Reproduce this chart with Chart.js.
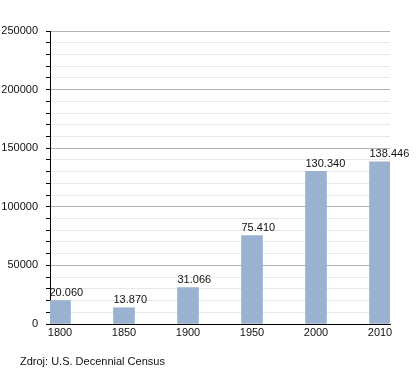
<!DOCTYPE html>
<html>
<head>
<meta charset="utf-8">
<script src="https://cdn.jsdelivr.net/npm/chart.js@4"></script>
<style>
  html, body { margin: 0; padding: 0; background: #fff; }
  canvas { display: block; }
</style>
</head>
<body>
<canvas id="popChart" width="420" height="373"></canvas>
<script>
// Census years and population
const years = ['1800', '1850', '1900', '1950', '2000', '2010'];
const population = [20060, 13870, 31066, 75410, 130340, 138446];
const valueLabels = ['20.060', '13.870', '31.066', '75.410', '130.340', '138.446'];
const sourceNote = 'Zdroj: U.S. Decennial Census';

const FONT = '"Liberation Sans", Arial, sans-serif';

// Labels above bars, left-aligned to the bar edge
const barLabels = {
  id: 'barLabels',
  afterDatasetsDraw(chart) {
    const ctx = chart.ctx;
    const meta = chart.getDatasetMeta(0);
    ctx.save();
    ctx.font = '11px ' + FONT;
    ctx.fillStyle = '#111';
    ctx.textAlign = 'left';
    ctx.textBaseline = 'bottom';
    meta.data.forEach((bar, i) => {
      ctx.fillText(valueLabels[i], bar.x - bar.width / 2, bar.y - 2);
    });
    ctx.restore();
  }
};

// Source footnote
const footNote = {
  id: 'footNote',
  afterDraw(chart) {
    const ctx = chart.ctx;
    ctx.save();
    ctx.font = '11px ' + FONT;
    ctx.fillStyle = '#111';
    ctx.textAlign = 'left';
    ctx.textBaseline = 'middle';
    ctx.fillText(sourceNote, 20, 362);
    ctx.restore();
  }
};

new Chart(document.getElementById('popChart'), {
  type: 'bar',
  data: {
    datasets: [{
      data: population.map((v, i) => ({ x: i, y: v })),
      backgroundColor: '#9ab2cf',
      barThickness: 21
    }]
  },
  options: {
    responsive: false,
    animation: false,
    layout: { padding: { top: 31, right: 30, left: 0, bottom: 0 } },
    plugins: {
      legend: { display: false },
      tooltip: { enabled: false }
    },
    scales: {
      x: {
        type: 'linear',
        offset: false,
        min: -10 / 64,
        max: 5 + 10 / 64,
        afterBuildTicks: s => {
          s.ticks = years.map((y, i) => ({ value: i }));
        },
        afterFit: s => { s.height = 49; },
        ticks: {
          autoSkip: false,
          maxRotation: 0,
          padding: 2,
          color: '#111',
          font: { family: FONT, size: 11 },
          callback: v => years[v] ?? ''
        },
        grid: { display: false, drawTicks: false },
        border: { display: true, color: '#000', width: 1 }
      },
      y: {
        min: 0,
        max: 250000,
        afterFit: s => { s.width = 50; },
        ticks: {
          stepSize: 10000,
          autoSkip: false,
          padding: 8,
          color: '#111',
          font: { family: FONT, size: 11 },
          callback: v => (v % 50000 === 0 ? String(v) : '')
        },
        grid: {
          color: c => (c.tick && c.tick.value % 50000 === 0 ? '#b4b4b4' : '#e8e8e8'),
          tickColor: '#000',
          tickLength: 4,
          lineWidth: 1
        },
        border: { display: true, color: '#000', width: 1 }
      }
    }
  },
  plugins: [barLabels, footNote]
});
</script>
</body>
</html>
